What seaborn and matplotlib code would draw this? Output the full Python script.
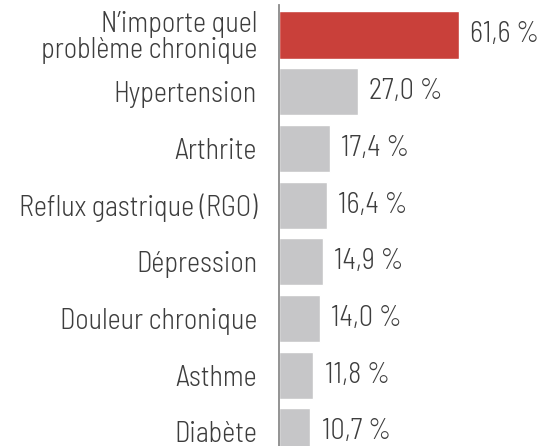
import matplotlib
matplotlib.use('Agg')
import pandas as pd
import seaborn as sns
from matplotlib import pyplot as plt

categories = [
    'N’importe quel\nproblème chronique',
    'Hypertension',
    'Arthrite',
    'Reflux gastrique (RGO)',
    'Dépression',
    'Douleur chronique',
    'Asthme',
    'Diabète',
]
values = [61.6, 27.0, 17.4, 16.4, 14.9, 14.0, 11.8, 10.7]
colors = ['#c9403a'] + ['#c6c6c8'] * 7

sns.set_theme(style='white')
plt.rcParams['font.family'] = ['Barlow Semi Condensed', 'DejaVu Sans']
plt.rcParams['font.weight'] = 300

df = pd.DataFrame({'category': categories, 'value': values})

fig = plt.figure(figsize=(5.48, 4.46), dpi=100)
ax = fig.add_axes([279 / 548, 0, 1 - 279 / 548, 441 / 446])

sns.barplot(df, x='value', y='category', hue='category', palette=colors,
            width=0.83, legend=False, saturation=1, ax=ax)

text_color = '#3d3d3d'
# format francais : virgule decimale, espace fine avant %
labels = [f'{v:.1f}'.replace('.', ',') + '\u2009%' for v in values]
for i, bars in enumerate(ax.containers):
    ax.bar_label(bars, labels=[labels[i]], padding=8.3, fontsize=20.3,
                 color=text_color, fontweight=300)

ax.set_xlim(0, 92.1)
ax.set_ylim(7.249, -0.529)
ax.set_xlabel('')
ax.set_ylabel('')
ax.set_xticks([])
ax.tick_params(axis='y', length=0, pad=15.8, labelsize=20.3, labelcolor=text_color)
for t in ax.get_yticklabels():
    t.set_linespacing(0.95)
    t.set_fontweight(300)

for side in ['top', 'right', 'bottom']:
    ax.spines[side].set_visible(False)
ax.spines['left'].set_color('#8a8a8a')
ax.spines['left'].set_linewidth(1.3)

fig.savefig('out.png', dpi=100, facecolor='white')
